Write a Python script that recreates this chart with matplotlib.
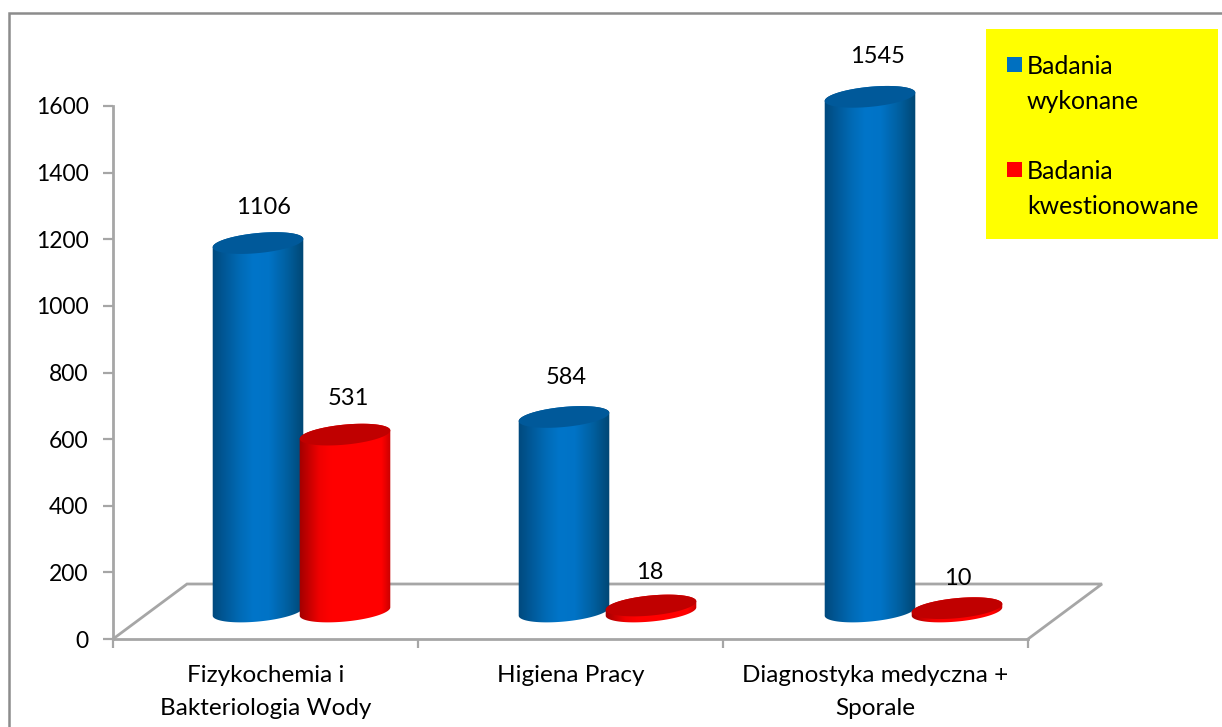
import matplotlib
matplotlib.use("Agg")
import matplotlib.pyplot as plt
import numpy as np
from matplotlib.legend_handler import HandlerPatch
from matplotlib.lines import Line2D
from matplotlib.patches import Patch, Polygon, Rectangle

categories = ["Fizykochemia i\nBakteriologia Wody", "Higiena Pracy", "Diagnostyka medyczna +\nSporale"]
series_names = ["Badania\nwykonane", "Badania\nkwestionowane"]
wykonane = [1106, 584, 1545]
kwestionowane = [531, 18, 10]
y_ticks = [0, 200, 400, 600, 800, 1000, 1200, 1400, 1600]

WIDTH, HEIGHT = 1222, 727
GREY = "#a6a6a6"

plt.rcParams["font.family"] = ["Lato", "DejaVu Sans"]
plt.rcParams["font.size"] = 17

fig = plt.figure(figsize=(WIDTH / 100, HEIGHT / 100), dpi=100)
ax = fig.add_axes([113 / WIDTH, (HEIGHT - 639) / HEIGHT, 915 / WIDTH, 533 / HEIGHT])
ax.set_xlim(-0.5, 2.5)
ax.set_ylim(0, 1600)

# data units per screen pixel, the 3d look is faked in pixels
px_x = 3 / 915
px_y = 1600 / 533
base = 27.5 * px_y


def shade(stops):
    pos = [s[0] for s in stops]
    rgb = np.array([matplotlib.colors.to_rgb(s[1]) for s in stops])
    xs = np.linspace(0, 1, 256)
    return np.stack([np.interp(xs, pos, rgb[:, i]) for i in range(3)], axis=-1)[np.newaxis, :, :]


def ellipse(cx, cy, start, stop):
    a, b, tilt = 45.5, 10.0, np.radians(5.5)
    t = np.linspace(start, stop, 80)
    ex, ey = a * np.cos(t), b * np.sin(t)
    x = ex * np.cos(tilt) - ey * np.sin(tilt)
    y = ex * np.sin(tilt) + ey * np.cos(tilt)
    return np.column_stack([cx + x * px_x, cy + y * px_y])


def cylinder(x, value, gradient, top_color, zorder):
    top = base + value
    body = np.vstack([ellipse(x, base, np.pi, 2 * np.pi), ellipse(x, top, 0, np.pi)])
    outline = Polygon(body, closed=True, transform=ax.transData, facecolor="none", edgecolor="none")
    ax.add_patch(outline)
    im = ax.imshow(
        gradient,
        extent=(x - 46 * px_x, x + 46 * px_x, base - 13 * px_y, top + 13 * px_y),
        aspect="auto",
        zorder=zorder,
        interpolation="bilinear",
    )
    im.set_clip_box(fig.bbox)
    im.set_clip_path(outline)
    ax.add_patch(Polygon(ellipse(x, top, 0, 2 * np.pi), closed=True, facecolor=top_color,
                         edgecolor="none", zorder=zorder + 0.5, clip_on=False))


def legend_square(legend, orig_handle, xdescent, ydescent, width, height, fontsize):
    # square sits next to the first text line, not the middle of the entry
    return Rectangle((0.7, 15), 15 * 0.72, 15 * 0.72, facecolor=orig_handle.get_facecolor(), edgecolor="none")


blue_shade = shade([(0, "#00497d"), (0.3, "#006ab5"), (0.45, "#0075c9"), (0.62, "#0073c6"), (0.82, "#005f9f"), (1, "#004673")])
red_shade = shade([(0, "#a00000"), (0.22, "#f00000"), (0.35, "#ff0000"), (0.9, "#ff0000"), (1, "#c80000")])

floor_dx, floor_dy = 74 * px_x, 55 * px_y
ax.plot([-0.5, -0.5 + floor_dx, 2.5 + floor_dx, 2.5], [0, floor_dy, floor_dy, 0],
        color=GREY, lw=2, clip_on=False, zorder=1, solid_joinstyle="miter")

# label offset from the top of its bar, pixels
label_nudge = {1106: (6, 36), 531: (3, 36.5), 584: (2, 39.5), 18: (-1, 33.5), 1545: (7, 40.5), 10: (1, 29.5)}

for i in range(len(categories)):
    blue_x = i + (-7.5 + i) * px_x
    red_x = i + (79.5 + i) * px_x
    cylinder(blue_x, wykonane[i], blue_shade, "#00599a", 3)
    cylinder(red_x, kwestionowane[i], red_shade, "#c00000", 4)
    for x, value in ((blue_x, wykonane[i]), (red_x, kwestionowane[i])):
        dx, dy = label_nudge[value]
        ax.text(x + dx * px_x, base + value + dy * px_y, str(value),
                ha="center", va="center", color="black", zorder=6, clip_on=False)

ax.set_ylim(0, 1600)
ax.set_xlim(-0.5, 2.5)

for side in ("top", "right"):
    ax.spines[side].set_visible(False)
for side in ("left", "bottom"):
    ax.spines[side].set_color(GREY)
    ax.spines[side].set_linewidth(2)

ax.set_yticks(y_ticks)
ax.tick_params(axis="y", length=7, width=1.6, color=GREY, pad=10.5, labelcolor="black", labelsize=16.5)
ax.set_xticks([-0.5, 0.5, 1.5, 2.5])
ax.set_xticklabels([])
ax.tick_params(axis="x", which="major", length=6.5, width=1.6, color=GREY)
ax.set_xticks(range(len(categories)), labels=categories, minor=True)
ax.tick_params(axis="x", which="minor", length=0, pad=19, labelcolor="black", labelsize=17.5)
for label in ax.get_xticklabels(minor=True):
    label.set_linespacing(1.7)

# yellow box is drawn by hand, a legend frame cannot be given a fixed size
fig.add_artist(Rectangle((986 / WIDTH, 1 - 239 / HEIGHT), 232 / WIDTH, 210 / HEIGHT,
                         transform=fig.transFigure, facecolor="#ffff00", edgecolor="none", zorder=2))

handles = [Patch(facecolor="#0070c0", edgecolor="none"), Patch(facecolor="#ff0000", edgecolor="none")]
legend = fig.legend(
    handles,
    series_names,
    handler_map={Patch: HandlerPatch(patch_func=legend_square)},
    loc="upper left",
    bbox_to_anchor=(986 / WIDTH, 1 - 35 / HEIGHT),
    frameon=False,
    fontsize=17.9,
    borderpad=0.8,
    borderaxespad=0,
    labelspacing=1.9,
    handlelength=0.6,
    handleheight=0.6,
    handletextpad=0.25,
)
legend.set_zorder(3)
for text in legend.get_texts():
    text.set_linespacing(1.62)

# outer chart frame, cut off at the right and bottom of the image
fig.add_artist(Line2D([9 / WIDTH, 9 / WIDTH, 1], [0, 1 - 13 / HEIGHT, 1 - 13 / HEIGHT],
                      color="#8c8c8c", lw=1.8, solid_joinstyle="miter"))

fig.savefig("out.png", dpi=100)
